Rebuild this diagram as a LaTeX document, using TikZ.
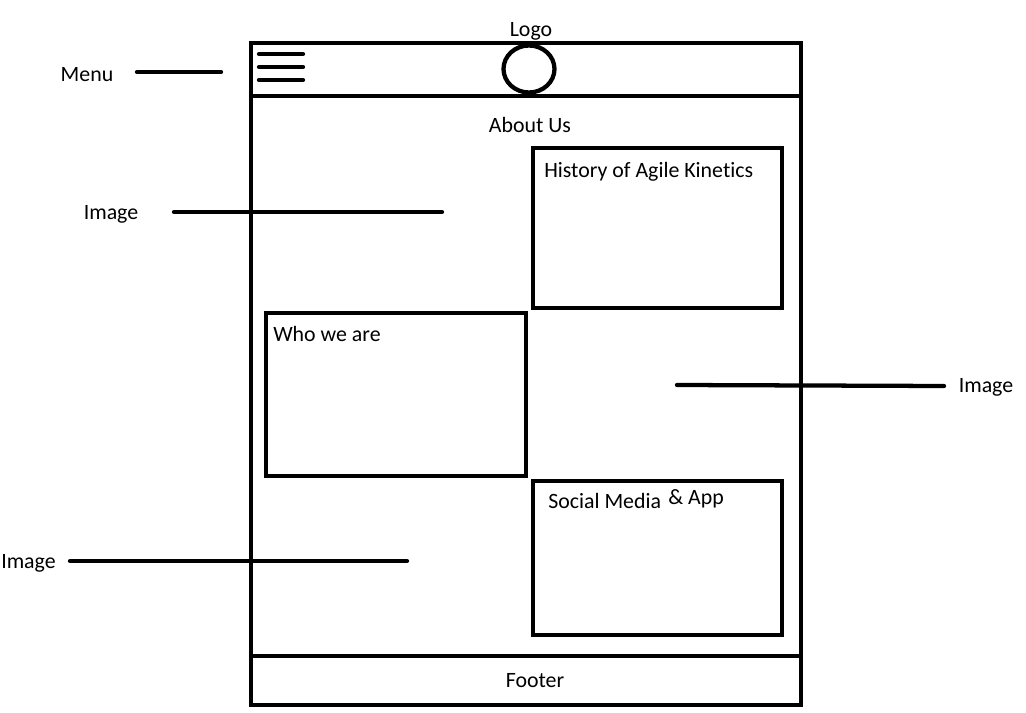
\documentclass[tikz,border=0pt]{standalone}
\usepackage{fontspec}
\setmainfont[Ligatures=NoCommon]{Carlito}
\usetikzlibrary{shapes.geometric}
\begin{document}
\begin{tikzpicture}[x=0.75pt,y=-0.75pt,
  thick line/.style={line width=3.2pt},
  lead/.style={line width=3.2pt,line cap=round},
  lbl/.style={font=\fontsize{16.4}{18}\selectfont,inner sep=0pt},
  box/.style={draw,line width=3.2pt,inner sep=0pt,outer sep=0pt}]
\useasboundingbox (0,0) rectangle (1026,713);
% outer frame
\node[box,minimum width=550*0.75pt,minimum height=662*0.75pt,anchor=north west] (frame) at (251,43) {};
\coordinate (hl) at (251,96); \coordinate (hr) at (801,96);
\draw[thick line] (hl) -- (hr);
\coordinate (fl) at (251,656); \coordinate (fr) at (801,656);
\draw[thick line] (fl) -- (fr);
% hamburger
\foreach \y/\n in {54/a,67/b,80/c}{
  \coordinate (m\n1) at (259,\y); \coordinate (m\n2) at (303,\y);
  \draw[lead] (m\n1) -- (m\n2);
}
% logo
\node[draw,line width=3.2pt,ellipse,minimum width=51*0.75pt,minimum height=47*0.75pt,inner sep=0pt,outer sep=0pt] (logo) at (529,69) {};
\node[lbl] (logot) at (531,31) {Logo};
\node[lbl] (about) at (530,125) {About Us};
\node[lbl] (footer) at (535,681) {Footer};
% boxes
\node[box,minimum width=249*0.75pt,minimum height=160*0.75pt,anchor=north west] (hist) at (533,148) {};
\node[lbl,anchor=west] (histt) at (544,172) {History of Agile Kinetics};
\node[box,minimum width=260*0.75pt,minimum height=163*0.75pt,anchor=north west] (who) at (266,313) {};
\node[lbl,anchor=west] (whot) at (273,334) {Who we are};
\node[box,minimum width=249*0.75pt,minimum height=154*0.75pt,anchor=north west] (soc) at (533,481) {};
\node[lbl,anchor=west] (soct) at (548,501) {Social Media};
\node[lbl,anchor=west] (socu) at (668,499) {\& App};
% leaders
\node[lbl] (menu) at (87,75) {Menu};
\coordinate (menu1) at (137,72); \coordinate (menu2) at (221,72);
\draw[lead] (menu1) -- (menu2);
\node[lbl] (img1) at (111,214) {Image};
\coordinate (i11) at (174,212); \coordinate (i12) at (442,212);
\draw[lead] (i11) -- (i12);
\node[lbl] (img2) at (986,387) {Image};
\coordinate (i21) at (677,385); \coordinate (i22) at (944,386);
\draw[lead] (i21) -- (i22);
\node[lbl,anchor=west] (img3) at (1,563) {Image};
\coordinate (i31) at (70,561); \coordinate (i32) at (407,561);
\draw[lead] (i31) -- (i32);
\end{tikzpicture}
\end{document}
